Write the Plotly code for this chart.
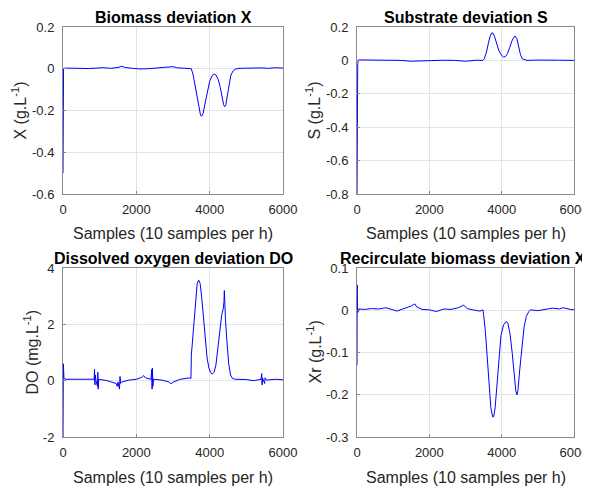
import plotly.graph_objects as go

# ---------------- data ----------------
x_samples = [0, 0, 15, 100, 300, 500, 700, 900, 1100, 1300, 1500, 1600, 1700, 1900, 2100, 2300,
             2500, 2700, 2900, 3000, 3100, 3300, 3450, 3500, 3550, 3600, 3650, 3700, 3750, 3780,
             3820, 3870, 3930, 4000, 4070, 4120, 4170, 4230, 4290, 4340, 4380, 4410, 4440, 4480,
             4530, 4580, 4640, 4700, 4800, 5000, 5200, 5400, 5600, 5800, 6000]
X_dev = [-0.5, -0.5, 0.002, 0.003, 0.002, 0.004, 0.001, 0.003, 0.005, 0.002, 0.006, 0.012, 0.006,
         0.002, -0.001, 0.0, 0.003, 0.005, 0.008, 0.01, 0.005, 0.003, 0.002, 0.0, -0.03, -0.08,
         -0.14, -0.19, -0.222, -0.228, -0.215, -0.17, -0.11, -0.06, -0.032, -0.025, -0.03, -0.05,
         -0.09, -0.14, -0.172, -0.182, -0.175, -0.13, -0.07, -0.03, -0.01, -0.002, 0.002, 0.003,
         0.001, 0.004, 0.002, 0.005, 0.003]

s_samples = [0, 10, 20, 40, 300, 600, 900, 1200, 1500, 1800, 2100, 2400, 2700, 3000, 3300, 3480,
             3520, 3580, 3630, 3680, 3730, 3760, 3800, 3860, 3920, 3980, 4050, 4100, 4160, 4220,
             4280, 4340, 4380, 4420, 4470, 4520, 4570, 4640, 4700, 5000, 5300, 5600, 6000]
S_dev = [-0.8, -0.3, -0.02, 0.003, 0.002, 0.003, 0.001, 0.0, -0.005, -0.002, 0.002, 0.001, 0.0,
         -0.005, 0.001, 0.0, 0.01, 0.05, 0.1, 0.145, 0.165, 0.163, 0.145, 0.1, 0.06, 0.035, 0.02,
         0.022, 0.04, 0.075, 0.115, 0.14, 0.145, 0.13, 0.08, 0.035, 0.01, 0.002, 0.0, 0.002, 0.0,
         0.001, 0.0]

do_samples = [0, 10, 25, 50, 400, 850, 860, 870, 880, 900, 940, 950, 960, 975, 1200, 1450, 1480,
              1500, 1540, 1555, 1570, 1600, 1800, 2000, 2150, 2200, 2250, 2400, 2420, 2430, 2440,
              2450, 2470, 2700, 2900, 2950, 3000, 3200, 3450, 3490, 3500, 3540, 3580, 3620, 3660,
              3700, 3740, 3780, 3830, 3880, 3930, 3980, 4030, 4070, 4120, 4170, 4220, 4280, 4330,
              4370, 4390, 4400, 4410, 4430, 4470, 4520, 4570, 4620, 4700, 5000, 5200, 5400, 5420,
              5430, 5440, 5500, 5510, 5550, 5800, 6000]
DO_dev = [-2.0, 0.6, 0.1, 0.05, 0.04, 0.05, 0.4, -0.15, 0.2, 0.0, -0.2, 0.3, -0.3, 0.05, 0.0,
          -0.1, -0.2, -0.05, -0.3, 0.15, -0.1, -0.05, 0.02, 0.05, 0.12, 0.18, 0.1, 0.05, 0.4, -0.3,
          0.45, -0.2, 0.05, 0.02, -0.05, -0.12, -0.05, 0.05, 0.1, 0.08, 0.9, 1.5, 2.3, 3.0, 3.45,
          3.57, 3.45, 3.0, 2.2, 1.4, 0.8, 0.45, 0.28, 0.23, 0.3, 0.55, 1.1, 1.8, 2.35, 2.55, 2.8,
          3.2, 2.6, 2.2, 1.4, 0.6, 0.2, 0.08, 0.05, 0.04, 0.0, 0.05, 0.25, -0.15, 0.1, -0.1, 0.1,
          0.02, 0.05, 0.03]

xr_samples = [0, 5, 15, 25, 50, 200, 400, 600, 800, 1000, 1100, 1300, 1500, 1600, 1650, 1800,
              2000, 2200, 2400, 2600, 2800, 2950, 3050, 3200, 3400, 3480, 3500, 3550, 3600, 3650,
              3700, 3750, 3780, 3820, 3870, 3920, 3980, 4050, 4120, 4170, 4230, 4290, 4340, 4390,
              4420, 4450, 4500, 4560, 4620, 4680, 4750, 4800, 5000, 5200, 5400, 5600, 5700, 5900,
              6000]
Xr_dev = [-0.13, 0.06, 0.0, -0.005, 0.003, 0.002, 0.004, 0.003, 0.006, 0.001, -0.002, 0.004, 0.01,
          0.015, 0.008, 0.002, 0.001, -0.003, 0.003, 0.002, 0.006, 0.012, 0.004, 0.001, -0.002,
          0.001, -0.01, -0.05, -0.11, -0.18, -0.23, -0.252, -0.252, -0.23, -0.17, -0.11, -0.06,
          -0.035, -0.027, -0.03, -0.055, -0.1, -0.15, -0.19, -0.2, -0.19, -0.14, -0.08, -0.04,
          -0.015, -0.003, 0.001, -0.001, 0.002, 0.005, 0.003, 0.006, 0.002, 0.001]

titles = ["Biomass deviation X", "Substrate deviation S",
          "Dissolved oxygen deviation DO", "Recirculate biomass deviation Xr"]
ylabels = ["X (g.L<sup>-1</sup>)", "S (g.L<sup>-1</sup>)",
           "DO (mg.L<sup>-1</sup>)", "Xr (g.L<sup>-1</sup>)"]
xlabel = "Samples (10 samples per h)"
x_ticks = [0, 2000, 4000, 6000]
y_ticks = [[0.2, 0, -0.2, -0.4, -0.6],
           [0.2, 0, -0.2, -0.4, -0.6, -0.8],
           [4, 2, 0, -2],
           [0.1, 0, -0.1, -0.2, -0.3]]
y_tick_text = [["0.2", "0", "-0.2", "-0.4", "-0.6"],
               ["0.2", "0", "-0.2", "-0.4", "-0.6", "-0.8"],
               ["4", "2", "0", "-2"],
               ["0.1", "0", "-0.1", "-0.2", "-0.3"]]
y_ranges = [[-0.6, 0.2], [-0.8, 0.2], [-2, 4], [-0.3, 0.1]]

series = [(x_samples, X_dev), (s_samples, S_dev), (do_samples, DO_dev), (xr_samples, Xr_dev)]

# ---------------- layout ----------------
OFF = 8                     # default body margin of the html page
PAGE_W, PAGE_H = 590, 486
W, H = PAGE_W - OFF, PAGE_H - OFF
# plot boxes in page pixels: (left, right), (top, bottom)
x_px = [(63, 283), (357, 574)]
y_px = [(27, 194), (268, 437)]
x_doms = [[(a - OFF) / W, (b - OFF) / W] for a, b in x_px]
y_doms = [[(H - (b - OFF)) / H, (H - (a - OFF)) / H] for a, b in y_px]
ylabel_x = [20, 314, 31, 314]   # page x of each y-axis label centre

fig = go.Figure()
FONT = "Liberation Sans, Arial, sans-serif"
axis_color = "#8a8a8a"
text_color = "#262626"

for i, (xs, ys) in enumerate(series):
    n = i + 1
    xa = "x" if n == 1 else f"x{n}"
    ya = "y" if n == 1 else f"y{n}"
    fig.add_trace(go.Scatter(x=xs, y=ys, mode="lines", xaxis=xa, yaxis=ya,
                             line=dict(color="#0000ff", width=1), showlegend=False,
                             hoverinfo="skip"))
    col, row = i % 2, i // 2
    xd = x_doms[col]
    yd = y_doms[row]
    common = dict(showline=True, mirror=True, linecolor=axis_color, linewidth=1,
                  showgrid=True, gridcolor="#e3e3e3", gridwidth=1, zeroline=False,
                  ticks="inside", ticklen=3, tickcolor=axis_color, automargin=False,
                  tickfont=dict(family=FONT, size=13, color=text_color))
    fig.update_layout(**{
        ("xaxis" if n == 1 else f"xaxis{n}"): dict(
            domain=xd, anchor=ya, range=[0, 6000], tickvals=x_ticks,
            ticklabelstandoff=3, **common),
        ("yaxis" if n == 1 else f"yaxis{n}"): dict(
            domain=yd, anchor=xa, range=y_ranges[i], tickvals=y_ticks[i],
            ticktext=y_tick_text[i], ticklabelstandoff=5, **common),
    })
    # subplot title
    fig.add_annotation(text="<b>" + titles[i] + "</b>", xref="paper", yref="paper",
                       x=(xd[0] + xd[1]) / 2, y=yd[1], xanchor="center", yanchor="bottom",
                       yshift=-1, showarrow=False,
                       font=dict(family=FONT, size=16, color="#000000"))
    # x axis label
    fig.add_annotation(text=xlabel, xref="paper", yref="paper",
                       x=(xd[0] + xd[1]) / 2, y=(H - (y_px[row][1] - OFF) - 40) / H,
                       xanchor="center", yanchor="middle", showarrow=False,
                       font=dict(family=FONT, size=16, color=text_color))
    # y axis label
    fig.add_annotation(text=ylabels[i], xref="paper", yref="paper",
                       x=(ylabel_x[i] - OFF) / W, y=(yd[0] + yd[1]) / 2, textangle=-90,
                       xanchor="center", yanchor="middle", showarrow=False,
                       font=dict(family=FONT, size=16, color=text_color))

fig.update_layout(width=W, height=H, margin=dict(l=0, r=0, t=0, b=0),
                  paper_bgcolor="white", plot_bgcolor="white")

fig.write_html("out.html")
